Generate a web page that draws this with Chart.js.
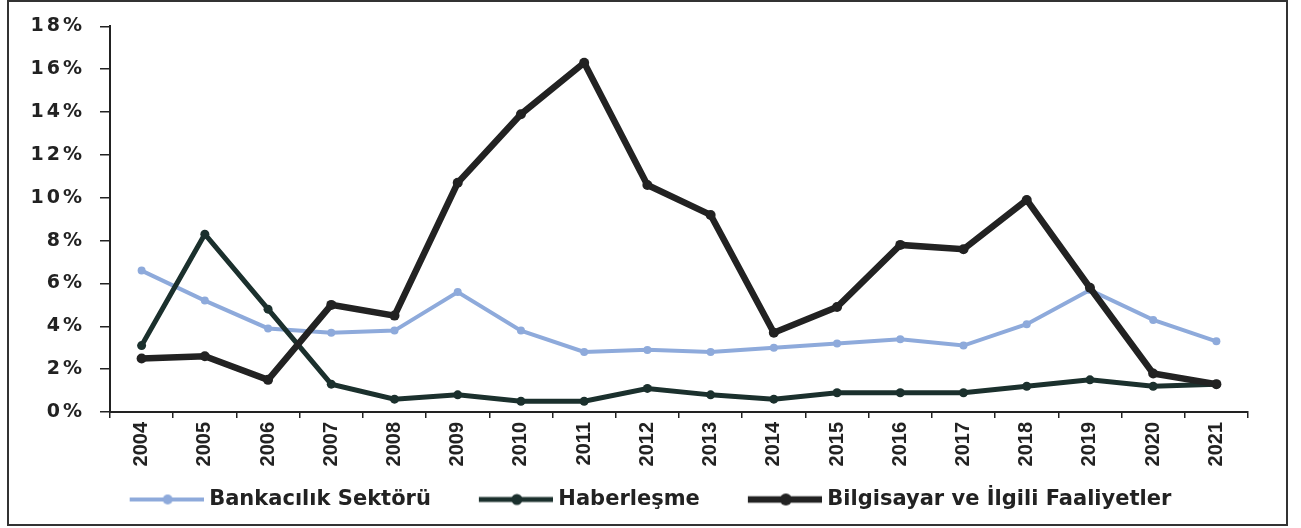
<!DOCTYPE html>
<html lang="tr">
<head>
<meta charset="UTF-8">
<title>Sektör oranları 2004-2021</title>
<script src="https://cdn.jsdelivr.net/npm/chart.js"></script>
<style>
  html, body { margin: 0; padding: 0; background: #fff; }
  .frame { position: absolute; left: 7px; top: 0; width: 1281px; height: 526px; border: 2px solid #333; box-sizing: border-box; }
  .wrap { position: absolute; left: 0; top: 0; width: 1301px; height: 528px; }
</style>
</head>
<body>
<div class="frame"></div>
<div class="wrap"><canvas id="chart" width="1301" height="528"></canvas></div>
<script>
const years = ['2004', '2005', '2006', '2007', '2008', '2009', '2010', '2011', '2012',
  '2013', '2014', '2015', '2016', '2017', '2018', '2019', '2020', '2021'];

const seriesNames = ['Bankacılık Sektörü', 'Haberleşme', 'Bilgisayar ve İlgili Faaliyetler'];

// values in percent
const bankacilik = [6.6, 5.2, 3.9, 3.7, 3.8, 5.6, 3.8, 2.8, 2.9, 2.8, 3.0, 3.2, 3.4, 3.1, 4.1, 5.7, 4.3, 3.3];
const haberlesme = [3.1, 8.3, 4.8, 1.3, 0.6, 0.8, 0.5, 0.5, 1.1, 0.8, 0.6, 0.9, 0.9, 0.9, 1.2, 1.5, 1.2, 1.3];
const bilgisayar = [2.5, 2.6, 1.5, 5.0, 4.5, 10.7, 13.9, 16.3, 10.6, 9.2, 3.7, 4.9, 7.8, 7.6, 9.9, 5.8, 1.8, 1.3];

const yMax = 18;
const yStep = 2;

const colors = ['#8eaadb', '#1b302d', '#222222'];
const widths = [4, 5, 6.5];
const radii = [4, 4.5, 5];

// legend marker: blank lead-in on the left, then line with a dot
function legendMarker(color, lw, r) {
  const c = document.createElement('canvas');
  c.width = 122; c.height = 16;
  const g = c.getContext('2d');
  g.strokeStyle = color;
  g.lineWidth = lw;
  g.beginPath();
  g.moveTo(48, 8);
  g.lineTo(122, 8);
  g.stroke();
  g.fillStyle = color;
  g.beginPath();
  g.arc(86, 8, r + 1, 0, Math.PI * 2);
  g.fill();
  return c;
}

const markers = colors.map((c, i) => legendMarker(c, widths[i], radii[i]));

// y tick labels are spaced wider than the rest of the text
const spacingPlugin = {
  id: 'spacing',
  beforeDraw(chart) { chart.ctx.letterSpacing = '0px'; },
  afterDatasetsDraw(chart) { chart.ctx.letterSpacing = '3px'; },
  afterDraw(chart) { chart.ctx.letterSpacing = '0px'; }
};

const makeSet = (i, data, order) => ({
  label: seriesNames[i],
  data: data,
  borderColor: colors[i],
  backgroundColor: colors[i],
  borderWidth: widths[i],
  pointRadius: radii[i],
  pointBorderWidth: 0,
  pointBackgroundColor: colors[i],
  pointStyle: 'circle',
  tension: 0,
  order: order
});

new Chart(document.getElementById('chart'), {
  type: 'line',
  data: {
    labels: years,
    datasets: [
      makeSet(0, bankacilik, 2),
      makeSet(1, haberlesme, 1),
      makeSet(2, bilgisayar, 0)
    ]
  },
  options: {
    responsive: false,
    animation: false,
    layout: { padding: { left: 10, right: 53, top: 26, bottom: 8 } },
    plugins: {
      tooltip: { enabled: false },
      legend: {
        position: 'bottom',
        labels: {
          usePointStyle: true,
          pointStyleWidth: 112,
          padding: 5,
          color: '#222',
          font: { family: 'DejaVu Sans', weight: 'bold', size: 21 },
          sort: (a, b) => a.datasetIndex - b.datasetIndex,
          generateLabels: (chart) => chart.data.datasets.map((ds, i) => ({
            text: ds.label,
            datasetIndex: i,
            pointStyle: markers[i],
            fillStyle: colors[i],
            strokeStyle: colors[i],
            lineWidth: 0,
            fontColor: '#222',
            hidden: false
          }))
        }
      }
    },
    scales: {
      x: {
        offset: true,
        grid: { display: true, drawOnChartArea: false, offset: true, tickLength: 6, color: '#222', lineWidth: 1.5 },
        border: { display: true, color: '#222', width: 2 },
        ticks: {
          autoSkip: false,
          minRotation: 90,
          maxRotation: 90,
          padding: 4,
          color: '#222',
          font: { family: 'Liberation Sans', weight: 'bold', size: 20 }
        },
        afterFit: (s) => { s.height = 72; }
      },
      y: {
        min: 0,
        max: yMax,
        grid: { display: true, drawOnChartArea: false, tickLength: 10, color: '#222', lineWidth: 1.5 },
        border: { display: true, color: '#222', width: 2 },
        ticks: {
          stepSize: yStep,
          padding: 15,
          z: 1,
          color: '#222',
          font: { family: 'DejaVu Sans', weight: 'bold', size: 19 },
          callback: (v) => v + '%'
        },
        afterFit: (s) => { s.width = 100; }
      }
    }
  },
  plugins: [spacingPlugin]
});
</script>
</body>
</html>
